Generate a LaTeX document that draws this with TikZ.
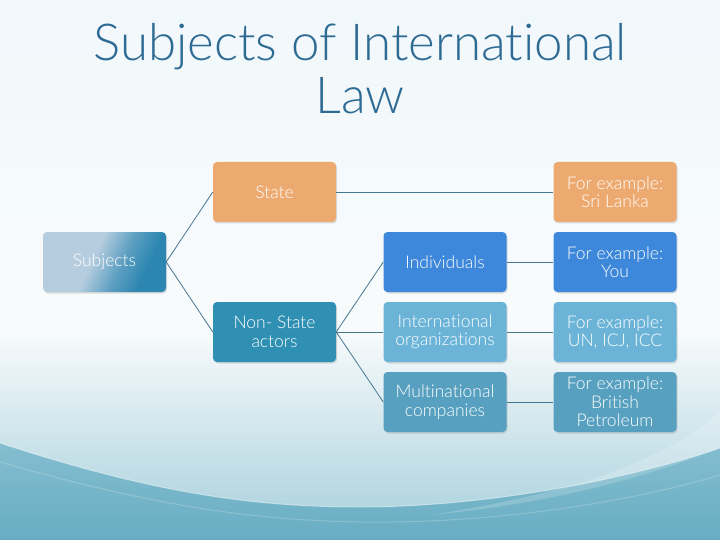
\documentclass[tikz,border=0pt]{standalone}
\usepackage{fontspec}
\IfFontExistsTF{Lato Light}{\setmainfont{Lato Light}[Ligatures=NoCommon]}{\setmainfont{Lato}[Ligatures=NoCommon]}
\usetikzlibrary{shadows}
\definecolor{titlec}{HTML}{2E6B94}
\definecolor{orangec}{HTML}{EDAA70}
\definecolor{nonstc}{HTML}{2F90B3}
\definecolor{indc}{HTML}{3D88DA}
\definecolor{intc}{HTML}{6BB4D8}
\definecolor{multc}{HTML}{57A0C0}
\definecolor{linec}{HTML}{44788F}
\definecolor{sA}{HTML}{B6CDDF}
\definecolor{sB}{HTML}{2C86B1}
\definecolor{bgtop}{HTML}{F1F8FB}
\definecolor{bgmid}{HTML}{F8FBFC}
\definecolor{bglow}{HTML}{A6CFDC}
\definecolor{wave1}{HTML}{84BECF}
\definecolor{wave2}{HTML}{68ADC3}
\pgfdeclarehorizontalshading{subjsh}{100bp}{color(0bp)=(sA); color(44bp)=(sA); color(58bp)=(sB!65!sA); color(70bp)=(sB); color(100bp)=(sB)}
\tikzset{
  box/.style={rounded corners=4pt, minimum width=123pt, minimum height=60pt,
    text=white, align=center, font=\fontsize{17.5}{18.5}\selectfont, inner sep=1pt,
    drop shadow={opacity=0.25, shadow xshift=1pt, shadow yshift=-1.5pt}},
  conn/.style={draw=linec, line width=0.8pt}
}
\begin{document}
\begin{tikzpicture}[x=1pt,y=-1pt]
\useasboundingbox (0,0) rectangle (720,540);
% background
\shade[top color=bgtop, bottom color=bgmid] (0,0) rectangle (720,330);
\shade[top color=bgmid, bottom color=bglow] (0,330) rectangle (720,540);
\shade[top color=wave1, bottom color=wave2] (0,443) .. controls (150,492) and (250,507) .. (360,507) .. controls (480,507) and (620,482) .. (720,448) -- (720,540) -- (0,540) -- cycle;
\draw[white, opacity=0.45, line width=1pt] (0,443) .. controls (150,492) and (250,507) .. (360,507) .. controls (480,507) and (620,482) .. (720,448);
\draw[white, opacity=0.2, line width=1pt] (0,462) .. controls (150,505) and (250,520) .. (360,522) .. controls (480,524) and (620,505) .. (720,475);
\fill[white, opacity=0.18] (430,515) .. controls (560,495) and (660,465) .. (720,412) -- (720,448) .. controls (640,480) and (540,505) .. (430,515) -- cycle;
% title
\node[text=titlec, font=\fontsize{51}{53}\selectfont, align=center] (title) at (360,69) {Subjects of International\\Law};
% boxes
\node[box, shading=subjsh, shading angle=-25] (subj) at (104.5,262) {Subjects};
\node[box, fill=orangec] (state) at (274.5,192) {State};
\node[box, fill=nonstc] (nonst) at (274.5,332) {Non- State\\actors};
\node[box, fill=indc] (ind) at (445,262) {Individuals};
\node[box, fill=intc] (intorg) at (445,332) {International\\organizations};
\node[box, fill=multc] (multi) at (445,402) {Multinational\\companies};
\node[box, fill=orangec] (ex1) at (615,192) {For example:\\Sri Lanka};
\node[box, fill=indc] (ex2) at (615,262) {For example:\\You};
\node[box, fill=intc] (ex3) at (615,332) {For example:\\UN, ICJ, ICC};
\node[box, fill=multc] (ex4) at (615,402) {For example:\\British\\Petroleum};
% connectors
\draw[conn] (subj.east) -- (state.west);
\draw[conn] (subj.east) -- (nonst.west);
\draw[conn] (state.east) -- (ex1.west);
\draw[conn] (nonst.east) -- (ind.west);
\draw[conn] (nonst.east) -- (intorg.west);
\draw[conn] (nonst.east) -- (multi.west);
\draw[conn] (ind.east) -- (ex2.west);
\draw[conn] (intorg.east) -- (ex3.west);
\draw[conn] (multi.east) -- (ex4.west);
\end{tikzpicture}
\end{document}
